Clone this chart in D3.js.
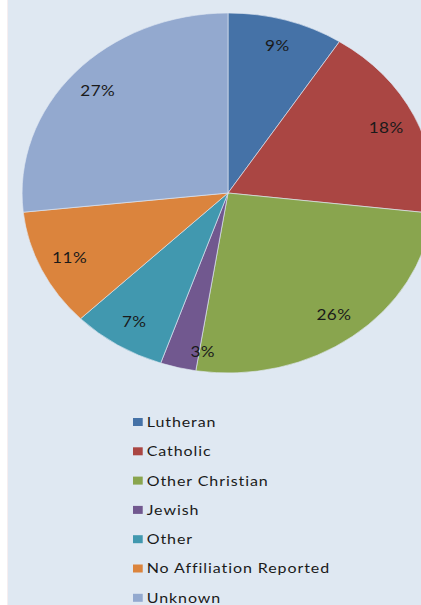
<!DOCTYPE html>
<html>
<head>
<meta charset="utf-8">
<script src="https://cdn.jsdelivr.net/npm/d3@7"></script>
<style>
  body { margin: 0; background: #ffffff; }
  svg { display: block; }
</style>
</head>
<body>
<div id="chart"></div>
<script>
// religious affiliation shares
let categories = ["Lutheran", "Catholic", "Other Christian", "Jewish", "Other", "No Affiliation Reported", "Unknown"]
let shares = [9.1, 17.7, 25.7, 2.8, 7.4, 10.6, 26.7]
let sliceColors = ["#4572a7", "#aa4643", "#89a54e", "#71588f", "#4198af", "#db843d", "#93a9cf"]

let width = 421, height = 605
let radius = 180
let stretch = 1.144  // the picture is squeezed wider than tall

let svg = d3.select('#chart').append('svg')
    .attr('width', width)
    .attr('height', height)

svg.append('rect')
    .attr('x', 8).attr('y', 0)
    .attr('width', width - 8).attr('height', height)
    .attr('fill', '#dfe8f2')
svg.append('line')
    .attr('x1', 7.5).attr('x2', 7.5).attr('y1', 0).attr('y2', height)
    .attr('stroke', '#f6eef0')

let data = categories.map((c, i) => ({ name: c, value: shares[i] }))

let pie = d3.pie().sort(null).value(d => d.value)
let arc = d3.arc().innerRadius(0).outerRadius(radius)
let labelArc = d3.arc().innerRadius(153).outerRadius(153)
let color = d3.scaleOrdinal().domain(categories).range(sliceColors)

let g = svg.append('g')
    .attr('transform', `translate(228,193) scale(${stretch},1)`)

g.selectAll('path')
    .data(pie(data))
    .enter()
    .append('path')
    .attr('d', arc)
    .attr('fill', d => color(d.data.name))
    .attr('stroke', '#dfe8f2')
    .attr('stroke-width', 0.6)

// tiny slices get their label pushed a bit, like excel does
function labelPos(d) {
    let [x, y] = labelArc.centroid(d)
    if (d.endAngle - d.startAngle < 0.2) { x += 15; y += 10 }
    return `translate(${x},${y})`
}

let pct = v => Math.round(v) + '%'
g.selectAll('text.pct')
    .data(pie(data))
    .enter()
    .append('text')
    .attr('class', 'pct')
    .attr('transform', labelPos)
    .attr('text-anchor', 'middle')
    .attr('dy', '0.35em')
    .style('font-family', 'Lato, sans-serif')
    .style('font-size', '15px')
    .style('letter-spacing', '0.4px')
    .attr('fill', '#1a1a1a')
    .text(d => pct(d.data.value))

// legend
let legend = svg.append('g')
    .attr('transform', `translate(133,422) scale(${stretch},1)`)

let rows = legend.selectAll('g')
    .data(categories)
    .enter()
    .append('g')
    .attr('transform', (d, i) => `translate(0,${i * 29.3})`)

rows.append('rect')
    .attr('x', 0).attr('y', -4)
    .attr('width', 8.5).attr('height', 8)
    .attr('fill', d => color(d))

rows.append('text')
    .attr('x', 12)
    .attr('dy', '0.35em')
    .style('font-family', 'Lato, sans-serif')
    .style('font-size', '14px')
    .style('letter-spacing', '0.8px')
    .attr('fill', '#1a1a1a')
    .text(d => d)
</script>
</body>
</html>
